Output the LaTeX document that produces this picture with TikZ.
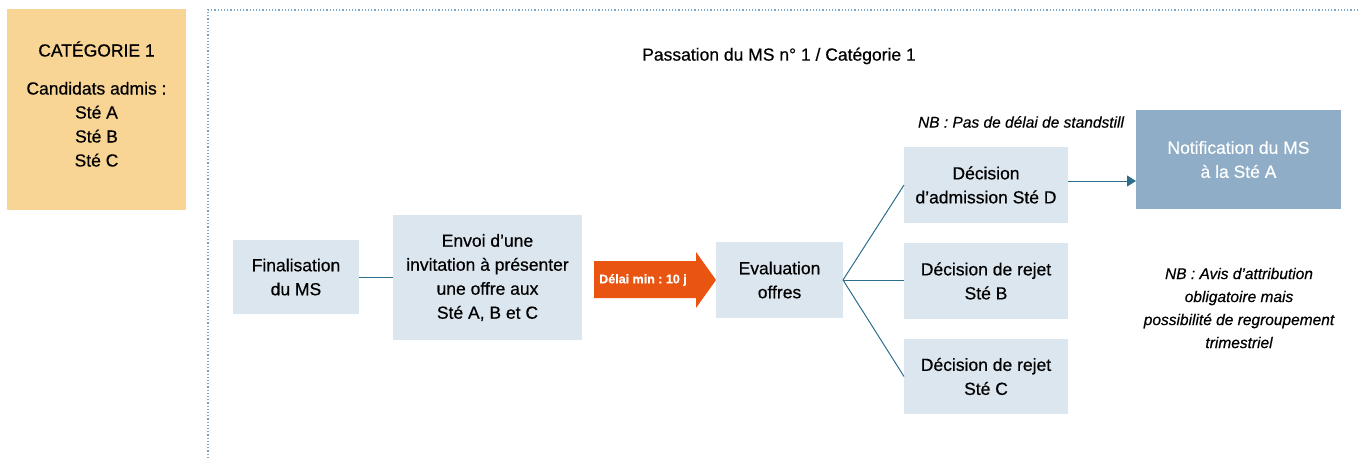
\documentclass[tikz,border=0pt]{standalone}
\usepackage{fontspec}
\setmainfont{Liberation Sans}[FakeBold=0.5]
\frenchspacing
\usetikzlibrary{arrows.meta}
\definecolor{catyellow}{HTML}{F8D594}
\definecolor{boxblue}{HTML}{DCE6EF}
\definecolor{notifblue}{HTML}{8FADC6}
\definecolor{arroworange}{HTML}{E95410}
\definecolor{linecol}{HTML}{2D6E8C}
\definecolor{framecol}{HTML}{7BA7C4}
\begin{document}
\begin{tikzpicture}[x=1pt,y=-1pt,
  every node/.style={inner sep=0pt, outer sep=0pt},
  txt/.style={font=\fontsize{17.5}{24}\selectfont, align=center},
  stepbox/.style={txt, fill=boxblue},
  conn/.style={draw=linecol, line width=1pt},
  nb/.style={font=\fontsize{15.5}{23}\selectfont\itshape, align=center}]
\useasboundingbox (0,0) rectangle (1359,458);
% frame
\draw[framecol, line width=1.2pt, dotted] (208,458) -- (208,10) -- (1359,10);
% category box
\node[fill=catyellow, minimum width=179, minimum height=201] (cat) at (96.5,109.5) {};
\node[txt] (cattxt) at (96.5,104) {CATÉGORIE 1\\[14pt]Candidats admis :\\Sté A\\Sté B\\Sté C};
% title
\node[txt] (title) at (779,56) {Passation du MS n° 1 / Catégorie 1};
% boxes
\node[stepbox, minimum width=126, minimum height=74] (fin) at (296,277) {Finalisation\\du MS};
\node[stepbox, minimum width=189, minimum height=125] (env) at (487.5,277.5) {Envoi d’une\\invitation à présenter\\une offre aux\\Sté A, B et C};
\node[stepbox, minimum width=127, minimum height=76] (eval) at (779.5,280) {Evaluation\\offres};
\node[stepbox, minimum width=164, minimum height=76] (dD) at (986,185) {Décision\\d’admission Sté D};
\node[stepbox, minimum width=164, minimum height=76] (dB) at (986,281) {Décision de rejet\\Sté B};
\node[stepbox, minimum width=164, minimum height=75] (dC) at (986,376.5) {Décision de rejet\\Sté C};
\node[txt, fill=notifblue, text=white, minimum width=205, minimum height=99] (notif) at (1238.5,159.5) {Notification du MS\\à la Sté A};
% orange arrow
\fill[arroworange] (594,261) -- (696,261) -- (696,252) -- (716,280) -- (696,308) -- (696,298) -- (594,298) -- cycle;
\node[font=\fontsize{12.5}{15}\selectfont\bfseries, text=white] (delai) at (643,280) {Délai min : 10 j};
% NB notes
\node[nb] (nb1) at (1021,122) {NB : Pas de délai de standstill};
\node[nb] (nb2) at (1239,308) {NB : Avis d’attribution\\obligatoire mais\\possibilité de regroupement\\trimestriel};
% connectors
\draw[conn] (fin.east) -- (fin.east -| env.west);
\draw[conn] (eval.east) -- (dD.west);
\draw[conn] (eval.east) -- (eval.east -| dB.west);
\draw[conn] (eval.east) -- (dC.west);
\draw[conn, -{Triangle[length=9pt,width=11pt]}] ([yshift=4pt]dD.east) -- ([yshift=4pt]dD.east -| notif.west);
\end{tikzpicture}
\end{document}
